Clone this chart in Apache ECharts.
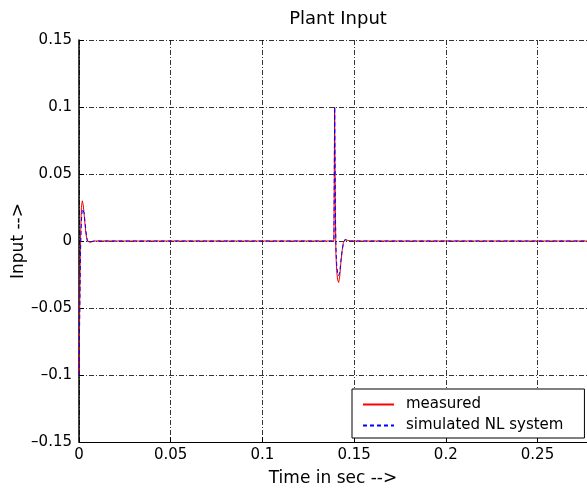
<!DOCTYPE html>
<html lang="en">
<head>
	<meta charset="UTF-8">
	<title>Plant Input</title>
	<style>
		html,body{margin:0;padding:0;background:#fff;}
		#main{width:587px;height:491px;}
	</style>
	<script src="https://cdn.jsdelivr.net/npm/echarts@6/dist/echarts.min.js"></script>
</head>
<body>
	<div id="main"></div>
	<script type="text/javascript">
		// time in sec, shared by both series
		var times = [0, 0.0003, 0.0008, 0.0013, 0.0018, 0.0023, 0.0028, 0.0033, 0.0038, 0.0045, 0.0052, 0.006, 0.007, 0.0085,
			0.139, 0.1394, 0.1398, 0.1401, 0.1405, 0.141, 0.1416, 0.1422, 0.1428, 0.1435, 0.1442, 0.145, 0.146, 0.148, 0.277];
		var measured = [-0.1, -0.06, 0.0, 0.025, 0.030, 0.027, 0.020, 0.012, 0.005, 0.0, -0.001, -0.001, -0.0004, 0,
			0, 0.1, 0.02, -0.01, -0.022, -0.029, -0.031, -0.026, -0.016, -0.007, -0.001, 0.001, 0.0005, 0, 0];
		var simulated = [-0.1, -0.065, -0.01, 0.015, 0.024, 0.025, 0.021, 0.014, 0.007, 0.001, -0.001, -0.001, -0.0003, 0,
			0, 0.1, 0.025, -0.005, -0.017, -0.024, -0.026, -0.023, -0.015, -0.007, -0.001, 0.001, 0.0004, 0, 0];
		var seriesNames = ['measured', 'simulated NL system'];

		function pairs(vals){
			return times.map(function(t, i){ return [t, vals[i]]; });
		}
		function minus(v){
			return String(v).replace('-', '\u2013');
		}

		var font = 'DejaVu Sans, sans-serif';
		var gridLine = {show: true, lineStyle: {color: '#000', width: 0.8, type: [5, 2, 1, 2]}};

		var myChart = echarts.init(document.getElementById('main'));
		var option = {
			animation: false,
			title: {
				text: 'Plant Input',
				left: 333, top: 5, textAlign: 'center',
				textStyle: {fontFamily: font, fontSize: 18, fontWeight: 'normal', color: '#000'}
			},
			grid: {left: 79, top: 40, right: 0, bottom: 49, containLabel: false, outerBoundsMode: 'none'},
			legend: {
				data: seriesNames,
				orient: 'vertical',
				left: 352, top: 389,
				itemWidth: 31, itemHeight: 10, itemGap: 6,
				padding: [8, 21, 5, 10],
				borderColor: '#000', borderWidth: 1,
				backgroundColor: '#fff',
				itemStyle: {opacity: 0},
				textStyle: {fontFamily: font, fontSize: 15, color: '#000', padding: [0, 0, 0, 7]}
			},
			xAxis: {
				type: 'value',
				min: 0, max: 0.277, interval: 0.05,
				name: 'Time in sec -->',
				nameLocation: 'middle', nameGap: 28,
				nameMoveOverlap: false,
				nameTextStyle: {fontFamily: font, fontSize: 17, color: '#000'},
				axisLine: {show: true, onZero: false, lineStyle: {color: '#000', width: 1}},
				axisTick: {show: true, inside: true, length: 5, lineStyle: {color: '#000'}},
				axisLabel: {showMaxLabel: false, margin: 6, fontFamily: font, fontSize: 15, color: '#000', formatter: minus},
				splitLine: gridLine
			},
			yAxis: {
				type: 'value',
				min: -0.15, max: 0.15, interval: 0.05,
				name: 'Input -->',
				nameLocation: 'middle', nameGap: 52,
				nameMoveOverlap: false,
				nameTextStyle: {fontFamily: font, fontSize: 17, color: '#000'},
				axisLine: {show: true, onZero: false, lineStyle: {color: '#000', width: 1.5}},
				axisTick: {show: true, inside: true, length: 5, lineStyle: {color: '#000'}},
				axisLabel: {margin: 7, fontFamily: font, fontSize: 15, color: '#000', formatter: minus},
				splitLine: gridLine
			},
			series: [
				{
					name: seriesNames[0], type: 'line', data: pairs(measured),
					showSymbol: false, symbol: 'none',
					lineStyle: {color: '#ff0000', width: 1},
					itemStyle: {color: '#ff0000'}
				},
				{
					name: seriesNames[1], type: 'line', data: pairs(simulated),
					showSymbol: false, symbol: 'none',
					lineStyle: {color: '#0000ff', width: 1, type: [4, 3]},
					itemStyle: {color: '#0000ff'}
				}
			]
		};
		myChart.setOption(option);
	</script>
</body>
</html>
